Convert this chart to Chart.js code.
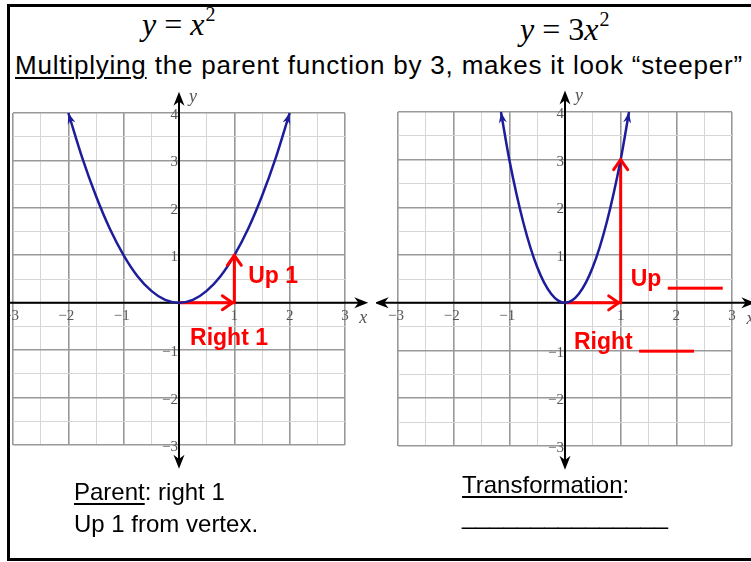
<!DOCTYPE html>
<html>
<head>
<meta charset="utf-8">
<script src="https://cdn.jsdelivr.net/npm/chart.js@4.4.1/dist/chart.umd.min.js"></script>
<style>
  html, body { margin: 0; padding: 0; background: #fff; }
  body { width: 751px; height: 562px; position: relative; overflow: hidden; }
  .txt { position: absolute; white-space: nowrap; line-height: 1; color: #000; }
  .sans { font-family: "Liberation Sans", Arial, sans-serif; }
  .math { font-family: "Liberation Serif", "Times New Roman", serif; font-size: 32px; }
  .math i { font-style: italic; }
  .sup { font-size: 20px; position: relative; top: -14px; margin-left: 1px; }
  u { text-decoration-thickness: 2px; text-underline-offset: 3px; }
  canvas { position: absolute; }
  #frame { position: absolute; left: 7px; top: 4px; width: 800px; height: 551px;
           border: 3px solid #000; pointer-events: none; }
</style>
</head>
<body>
<div class="txt math" style="left:142px; top:8px;"><i>y</i> = <i>x</i><span class="sup">2</span></div>
<div class="txt math" style="left:520px; top:13px;"><i>y</i> = 3<i>x</i><span class="sup">2</span></div>
<div class="txt sans" style="left:15px; top:52px; font-size:26px; letter-spacing:0.8px;"><u>Multiplying</u> the parent function by 3, makes it look “steeper”</div>

<canvas id="parentChart" width="366" height="400" style="left:10px; top:80px;"></canvas>
<canvas id="steepChart" width="375" height="400" style="left:376px; top:80px;"></canvas>

<div class="txt sans" style="left:74px; top:480px; font-size:24px;"><u>Parent</u>: right 1</div>
<div class="txt sans" style="left:74px; top:512px; font-size:24px;">Up 1 from vertex.</div>
<div class="txt sans" style="left:462px; top:473px; font-size:24px;"><u>Transformation</u>:</div>
<div class="txt sans" style="left:462px; top:504px; font-size:24.7px;">_______________</div>
<div id="frame"></div>

<script>
// parent function y = x^2
const parentX = [-2, -1.75, -1.5, -1.25, -1, -0.75, -0.5, -0.25, 0, 0.25, 0.5, 0.75, 1, 1.25, 1.5, 1.75, 2];
const parentY = [4, 3.06, 2.25, 1.56, 1, 0.56, 0.25, 0.06, 0, 0.06, 0.25, 0.56, 1, 1.56, 2.25, 3.06, 4];

// y = 3x^2 (right grid)
const steepX = [-1.15, -1, -0.75, -0.5, -0.25, 0, 0.25, 0.5, 0.75, 1, 1.15];
const steepY = [4, 3, 1.69, 0.75, 0.19, 0, 0.19, 0.75, 1.69, 3, 4];

// red "right then up" steps from the vertex
const parentStepX = [0, 1, 1];
const parentStepY = [0, 0, 1];
const steepStepX = [0, 1, 1];
const steepStepY = [0, 0, 3];

// tick labels
const xTickValues = [-3, -2, -1, 1, 2, 3];
const xTickLabels = ['\u22123', '\u22122', '\u22121', '1', '2', '3'];
const yTickValues = [-3, -2, -1, 1, 2, 3, 4];
const yTickLabels = ['\u22123', '\u22122', '\u22121', '1', '2', '3', '4'];

const NAVY = '#1d1d9b';
const RED = '#ff0000';

function toPoints(xs, ys) {
  return xs.map((x, i) => ({ x: x, y: ys[i] }));
}

// filled "stealth" arrow head with its tip at (x, y), pointing along angle
function stealth(ctx, x, y, angle, len, half, color) {
  ctx.save();
  ctx.translate(x, y);
  ctx.rotate(angle);
  ctx.fillStyle = color;
  ctx.beginPath();
  ctx.moveTo(0, 0);
  ctx.lineTo(-len, -half);
  ctx.lineTo(-len * 0.7, 0);
  ctx.lineTo(-len, half);
  ctx.closePath();
  ctx.fill();
  ctx.restore();
}

// open V arrow head
function openHead(ctx, x, y, angle, len, half, color, width) {
  ctx.save();
  ctx.translate(x, y);
  ctx.rotate(angle);
  ctx.strokeStyle = color;
  ctx.lineWidth = width;
  ctx.lineCap = 'round';
  ctx.lineJoin = 'miter';
  ctx.beginPath();
  ctx.moveTo(-len, -half);
  ctx.lineTo(0, 0);
  ctx.lineTo(-len, half);
  ctx.stroke();
  ctx.restore();
}

// black axes with arrows, drawn over the grid but under the curves
const axesPlugin = {
  id: 'axes',
  beforeDatasetsDraw(chart, args, opts) {
    const { ctx, scales: { x, y } } = chart;
    const x0 = x.getPixelForValue(0);
    const y0 = y.getPixelForValue(0);
    const left = x.getPixelForValue(opts.xFrom);
    const right = x.getPixelForValue(opts.xTo);
    const top = y.getPixelForValue(opts.yTo);
    const bottom = y.getPixelForValue(opts.yFrom);
    ctx.save();
    ctx.strokeStyle = '#000';
    ctx.lineWidth = 2;
    ctx.beginPath();
    ctx.moveTo(left + 4, y0);
    ctx.lineTo(right - 4, y0);
    ctx.moveTo(x0, top + 4);
    ctx.lineTo(x0, bottom - 4);
    ctx.stroke();
    stealth(ctx, right, y0, 0, 14, 5.5, '#000');
    stealth(ctx, left, y0, Math.PI, 14, 5.5, '#000');
    stealth(ctx, x0, top, -Math.PI / 2, 14, 5.5, '#000');
    stealth(ctx, x0, bottom, Math.PI / 2, 14, 5.5, '#000');

    // tick labels sit against the axes
    ctx.fillStyle = '#555';
    ctx.font = '15px "Liberation Serif", serif';
    ctx.textAlign = 'center';
    ctx.textBaseline = 'middle';
    xTickValues.forEach((v, i) => {
      ctx.fillText(xTickLabels[i], x.getPixelForValue(v) - (v < 0 ? 2 : 0), y0 + 13);
    });
    ctx.textAlign = 'right';
    yTickValues.forEach((v, i) => {
      ctx.fillText(yTickLabels[i], x0 - 1, y.getPixelForValue(v) + 2);
    });
    ctx.font = 'italic 18px "Liberation Serif", serif';
    ctx.textAlign = 'center';
    ctx.fillText('y', x0 + 14, top + 6);
    ctx.fillText('x', right - 5, y0 + 16);
    ctx.restore();
  }
};

// arrow heads on the curve ends and on the red steps, plus the red notes
const marksPlugin = {
  id: 'marks',
  afterDatasetsDraw(chart, args, opts) {
    const { ctx, scales: { x, y } } = chart;
    const ds = chart.data.datasets;
    const curve = ds[0].data;
    const n = curve.length;
    const px = p => [x.getPixelForValue(p.x), y.getPixelForValue(p.y)];
    let [ax, ay] = px(curve[0]);
    let [bx, by] = px(curve[1]);
    stealth(ctx, ax, ay, Math.atan2(ay - by, ax - bx), 11, 4, NAVY);
    [ax, ay] = px(curve[n - 1]);
    [bx, by] = px(curve[n - 2]);
    stealth(ctx, ax, ay, Math.atan2(ay - by, ax - bx), 11, 4, NAVY);

    const step = ds[1].data;
    const [s0x, s0y] = px(step[0]);
    const [s1x, s1y] = px(step[1]);
    const [s2x, s2y] = px(step[2]);
    openHead(ctx, s1x - 2, s1y, Math.atan2(s1y - s0y, s1x - s0x), 10, 7, RED, 3);
    openHead(ctx, s2x, s2y, Math.atan2(s2y - s1y, s2x - s1x), 10, 7, RED, 3);

    ctx.save();
    ctx.fillStyle = RED;
    ctx.font = 'bold 23px "Liberation Sans", Arial, sans-serif';
    ctx.textAlign = 'left';
    ctx.textBaseline = 'alphabetic';
    opts.notes.forEach(nt => {
      const tx = x.getPixelForValue(nt.x);
      const ty = y.getPixelForValue(nt.y);
      ctx.fillText(nt.text, tx, ty);
      // the answer blanks are heavy red rules in the original
      if (nt.blank) {
        const w = ctx.measureText(nt.text + ' ').width;
        ctx.fillRect(tx + w, ty + 1, nt.blank, 3);
      }
    });
    ctx.restore();
  }
};

function gridColor(c) {
  return Math.abs(c.tick.value % 1) < 1e-9 ? '#999999' : '#d6d6d6';
}
function gridWidth(c) {
  return Math.abs(c.tick.value % 1) < 1e-9 ? 1.6 : 1;
}

function makeGraph(id, xs, ys, stepXs, stepYs, padding, notes) {
  const ctx = document.getElementById(id);
  return new Chart(ctx, {
    type: 'scatter',
    data: {
      datasets: [{
        data: toPoints(xs, ys),
        showLine: true,
        borderColor: NAVY,
        borderWidth: 2.5,
        pointRadius: 0,
        cubicInterpolationMode: 'monotone',
        clip: false
      }, {
        data: toPoints(stepXs, stepYs),
        showLine: true,
        borderColor: RED,
        borderWidth: 3,
        pointRadius: 0,
        tension: 0,
        clip: false
      }]
    },
    options: {
      responsive: false,
      animation: false,
      layout: { padding: padding },
      plugins: {
        legend: { display: false },
        tooltip: { enabled: false },
        axes: { xFrom: -3.42, xTo: 3.42, yFrom: -3.5, yTo: 4.45 },
        marks: { notes: notes }
      },
      scales: {
        x: {
          type: 'linear',
          min: -3,
          max: 3,
          ticks: { stepSize: 0.5, display: false },
          grid: { color: gridColor, lineWidth: gridWidth, drawTicks: false },
          border: { display: false }
        },
        y: {
          type: 'linear',
          min: -3,
          max: 4,
          ticks: { stepSize: 0.5, display: false },
          grid: { color: gridColor, lineWidth: gridWidth, drawTicks: false },
          border: { display: false }
        }
      }
    },
    plugins: [axesPlugin, marksPlugin]
  });
}

makeGraph('parentChart', parentX, parentY, parentStepX, parentStepY,
  { left: 3, right: 31, top: 33, bottom: 35 },
  [{ text: 'Up 1', x: 1.25, y: 0.41 }, { text: 'Right 1', x: 0.2, y: -0.9 }]);

makeGraph('steepChart', steepX, steepY, steepStepX, steepStepY,
  { left: 22, right: 19, top: 32, bottom: 34 },
  [{ text: 'Up', x: 1.18, y: 0.36, blank: 55 }, { text: 'Right', x: 0.16, y: -0.96, blank: 55 }]);
</script>
</body>
</html>
